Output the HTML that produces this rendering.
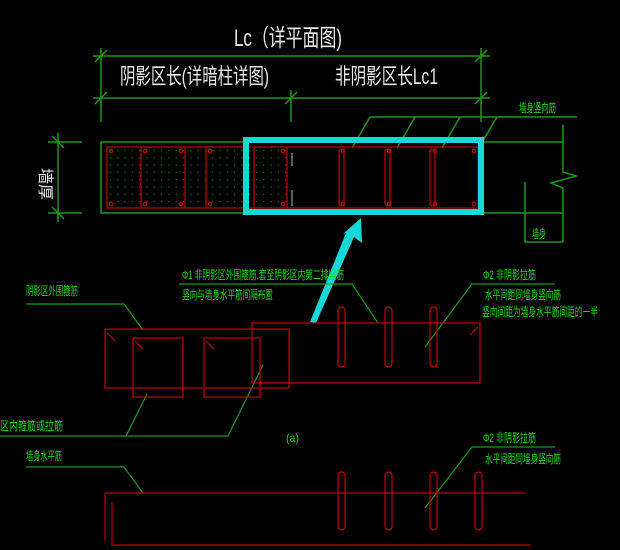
<!DOCTYPE html>
<html><head><meta charset="utf-8"><style>
html,body{margin:0;padding:0;background:#000;width:620px;height:550px;overflow:hidden}
svg{display:block}
.w{fill:#e8e8e8;font-family:"Liberation Sans","Noto Sans CJK SC",sans-serif}
.g{fill:#1fd81f;font-family:"Liberation Sans","Noto Sans CJK SC",sans-serif;font-size:12px}
</style></head><body>
<svg width="620" height="550" viewBox="0 0 620 550" xmlns="http://www.w3.org/2000/svg">
<defs>
<pattern id="dots" x="107" y="147" width="7.3" height="7.3" patternUnits="userSpaceOnUse"><rect x="3" y="3" width="1" height="1" fill="#0c0"/></pattern>
</defs>
<rect width="620" height="550" fill="#000"/>
<text class="w" x="234" y="46" font-size="24" textLength="108" lengthAdjust="spacingAndGlyphs">Lc（详平面图)</text>
<g stroke="#1a9a1a" stroke-width="1.5" fill="none">
<line x1="93" y1="56" x2="490" y2="56"/>
<line x1="93" y1="98" x2="490" y2="98"/>
<line x1="101" y1="48" x2="101" y2="122"/>
<line x1="481" y1="48" x2="481" y2="122"/>
<line x1="291" y1="90" x2="291" y2="122"/>
<line x1="95" y1="62" x2="107" y2="50"/><line x1="475" y1="62" x2="487" y2="50"/>
<line x1="95" y1="104" x2="107" y2="92"/><line x1="285" y1="104" x2="297" y2="92"/><line x1="475" y1="104" x2="487" y2="92"/>
<line x1="370" y1="117" x2="577" y2="117"/>
<line x1="370" y1="117" x2="352" y2="148"/><line x1="415" y1="117" x2="397" y2="148"/><line x1="460" y1="117" x2="442" y2="148"/><line x1="497" y1="117" x2="481" y2="144"/>
<polyline points="563,125 563,142 101,142 101,213 563,213 563,242"/>
<polyline points="563,142 563,172 576,176 551,183 563,188 563,213"/>
<polyline points="525,182 525,242 563,242"/>
<line x1="58" y1="133" x2="58" y2="222"/>
<line x1="48" y1="142" x2="82" y2="142"/><line x1="48" y1="213" x2="82" y2="213"/>
<line x1="52" y1="136" x2="64" y2="148"/><line x1="52" y1="207" x2="64" y2="219"/>
</g>
<text class="w" x="120" y="84" font-size="22" textLength="149" lengthAdjust="spacingAndGlyphs">阴影区长(详暗柱详图)</text>
<text class="w" x="335" y="84" font-size="22" textLength="103" lengthAdjust="spacingAndGlyphs">非阴影区长Lc1</text>
<text class="g" x="519" y="112" textLength="37" lengthAdjust="spacingAndGlyphs">墙身竖向筋</text>
<text class="g" x="532" y="238" textLength="14" lengthAdjust="spacingAndGlyphs">墙身</text>
<text class="w" x="26" y="174" font-size="16" transform="rotate(90 36 178)">墙厚</text>
<rect x="107" y="147" width="180" height="61" fill="url(#dots)"/>
<g stroke="#c00000" stroke-width="1.2" fill="none">
<rect x="107" y="147" width="371" height="61"/>
<line x1="141" y1="147" x2="141" y2="208"/><line x1="185" y1="147" x2="185" y2="208"/>
<line x1="206" y1="147" x2="206" y2="208"/><line x1="254" y1="147" x2="254" y2="208"/>
<line x1="287" y1="147" x2="287" y2="208"/>
<rect x="339" y="149" width="5" height="57" rx="2.5"/><rect x="385" y="149" width="5" height="57" rx="2.5"/><rect x="430" y="149" width="5" height="57" rx="2.5"/>
<g><circle cx="111" cy="151" r="1.8"/><circle cx="145" cy="151" r="1.8"/><circle cx="181" cy="151" r="1.8"/><circle cx="210" cy="151" r="1.8"/><circle cx="283" cy="151" r="1.8"/>
<circle cx="111" cy="204" r="1.8"/><circle cx="145" cy="204" r="1.8"/><circle cx="181" cy="204" r="1.8"/><circle cx="210" cy="204" r="1.8"/><circle cx="283" cy="204" r="1.8"/>
<circle cx="343" cy="151" r="1.8"/><circle cx="389" cy="151" r="1.8"/><circle cx="435" cy="151" r="1.8"/><circle cx="474" cy="151" r="1.8"/>
<circle cx="343" cy="204" r="1.8"/><circle cx="389" cy="204" r="1.8"/><circle cx="435" cy="204" r="1.8"/><circle cx="474" cy="204" r="1.8"/></g>
</g>
<g stroke="#bbb" stroke-width="1"><line x1="292" y1="153" x2="292" y2="166"/><line x1="292" y1="190" x2="292" y2="206"/></g>
<rect x="246" y="140" width="235" height="72" fill="none" stroke="#17d8d8" stroke-width="6"/>
<polygon points="361,218 362,243 354,237 316,323 310,322 346,233 343,234" fill="#17d8d8"/>
<g stroke="#1a9a1a" stroke-width="1.2" fill="none">
<polyline points="179,284 352,284 378,323"/>
<polyline points="555,284 472,284 425,347"/>
<polyline points="26,304 124,304 143,330"/>
<polyline points="0,436 228,436 263,365"/>
<line x1="126" y1="436" x2="147" y2="394"/>
<polyline points="555,447 472,447 425,508"/>
<polyline points="26,467 124,467 143,493"/>
</g>
<g stroke="#c00000" stroke-width="1.2" fill="none">
<rect x="105" y="329" width="184" height="59"/>
<rect x="133" y="338" width="50" height="59"/>
<rect x="204" y="338" width="56" height="59"/>
<rect x="252" y="323" width="228" height="60"/>
<rect x="338" y="307" width="7" height="60" rx="3.5"/><rect x="385" y="307" width="7" height="60" rx="3.5"/><rect x="430" y="307" width="7" height="60" rx="3.5"/>
<line x1="105" y1="493" x2="525" y2="493"/>
<line x1="105" y1="493" x2="105" y2="540"/>
<polyline points="112,502 112,545 531,545"/>
<rect x="338" y="472" width="7" height="58" rx="3.5"/><rect x="385" y="472" width="7" height="58" rx="3.5"/><rect x="430" y="472" width="7" height="58" rx="3.5"/><rect x="475" y="472" width="7" height="58" rx="3.5"/>
<line x1="107" y1="333" x2="115" y2="341"/><line x1="135" y1="341" x2="143" y2="349"/><line x1="206" y1="341" x2="214" y2="349"/><line x1="470" y1="335" x2="478" y2="327"/>
</g>
<text class="g" x="182" y="279" textLength="162" lengthAdjust="spacingAndGlyphs">Φ1 非阴影区外围箍筋,套至阴影区内第二排竖筋</text>
<text class="g" x="182" y="299" textLength="91" lengthAdjust="spacingAndGlyphs">竖向与墙身水平筋间隔布置</text>
<text class="g" x="483" y="279" textLength="53" lengthAdjust="spacingAndGlyphs">Φ2 非阴影拉筋</text>
<text class="g" x="485" y="299" textLength="76" lengthAdjust="spacingAndGlyphs">水平间距同墙身竖向筋</text>
<text class="g" x="482" y="316" textLength="116" lengthAdjust="spacingAndGlyphs">竖向间距为墙身水平筋间距的一半</text>
<text class="g" x="26" y="295" textLength="52" lengthAdjust="spacingAndGlyphs">阴影区外围箍筋</text>
<text class="g" x="0" y="430" textLength="63" lengthAdjust="spacingAndGlyphs">区内箍筋或拉筋</text>
<text class="g" x="286" y="442" textLength="13" lengthAdjust="spacingAndGlyphs">(a)</text>
<text class="g" x="483" y="442" textLength="53" lengthAdjust="spacingAndGlyphs">Φ2 非阴影拉筋</text>
<text class="g" x="485" y="463" textLength="76" lengthAdjust="spacingAndGlyphs">水平间距同墙身竖向筋</text>
<text class="g" x="26" y="460" textLength="36" lengthAdjust="spacingAndGlyphs">墙身水平筋</text>
</svg>
</body></html>
